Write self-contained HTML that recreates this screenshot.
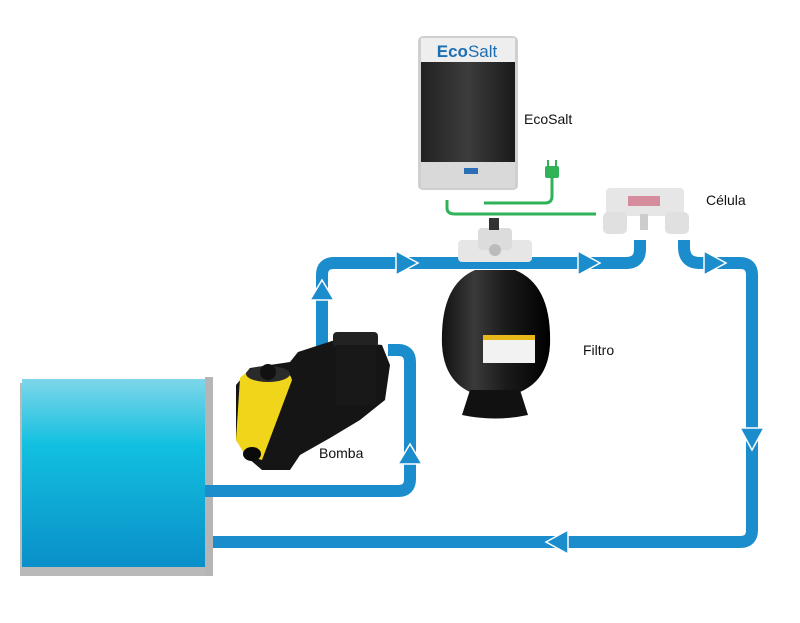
<!DOCTYPE html>
<html><head><meta charset="utf-8"><style>
html,body{margin:0;padding:0;background:#fff}
svg{display:block}
text{font-family:"Liberation Sans",sans-serif}
</style></head><body>
<svg width="800" height="623" viewBox="0 0 800 623" xmlns="http://www.w3.org/2000/svg">
<defs>
<linearGradient id="pool" x1="0" y1="0" x2="0" y2="1">
<stop offset="0" stop-color="#7fd6ea"/><stop offset="0.35" stop-color="#12c0e0"/><stop offset="1" stop-color="#0a8fc8"/>
</linearGradient>
<linearGradient id="tank" x1="0" y1="0" x2="1" y2="0">
<stop offset="0" stop-color="#111"/><stop offset="0.3" stop-color="#3a3a3a"/><stop offset="0.6" stop-color="#1a1a1a"/><stop offset="1" stop-color="#000"/>
</linearGradient>
<linearGradient id="box" x1="0" y1="0" x2="1" y2="0">
<stop offset="0" stop-color="#222"/><stop offset="0.5" stop-color="#3c3c3c"/><stop offset="1" stop-color="#1a1a1a"/>
</linearGradient>
</defs>
<rect x="20" y="383" width="193" height="193" fill="#b9b9b9"/>
<rect x="22" y="379" width="183" height="188" fill="url(#pool)"/>
<rect x="205" y="377" width="8" height="199" fill="#b5b5b5"/>
<g fill="none" stroke="#1b8ccc" stroke-width="12" stroke-linejoin="round">
<path d="M205 491 H398 Q410 491 410 479 V362 Q410 350 398 350 H388"/>
<path d="M213 542 H740 Q752 542 752 530 V275 Q752 263 740 263 H700 Q684 263 684 247 V240"/>
<path d="M322 362 V275 Q322 263 334 263 H626 Q640 263 640 249 V240"/>
</g>
<g fill="#1b8ccc" stroke="#fff" stroke-width="1.5">
<polygon points="396,251 396,275 418,263"/>
<polygon points="578,251 578,275 600,263"/>
<polygon points="704,251 704,275 726,263"/>
<polygon points="310,300 334,300 322,280"/>
<polygon points="398,464 422,464 410,444"/>
<polygon points="740,428 764,428 752,450"/>
<polygon points="568,530 568,554 546,542"/>
</g>
<g>
<path d="M298 352 L335 340 L382 345 L390 365 L385 400 L360 420 L330 438 L300 455 L290 470 L262 470 L248 458 L236 440 L236 385 L250 368 L290 362 Z" fill="#151515"/>
<path d="M240 378 Q248 368 280 368 Q290 372 292 380 L262 460 L245 455 L236 440 Z" fill="#f0d51a"/>
<ellipse cx="268" cy="374" rx="22" ry="8" fill="#2a2a2a"/>
<circle cx="268" cy="372" r="8" fill="#111"/>
<rect x="333" y="332" width="45" height="15" rx="4" fill="#222"/>
<rect x="336" y="345" width="40" height="60" fill="#181818"/>
<ellipse cx="252" cy="454" rx="9" ry="7" fill="#0a0a0a"/>
</g>
<text x="319" y="458" font-size="14" fill="#111">Bomba</text>
<g>
<rect x="458" y="240" width="74" height="22" rx="4" fill="#e6e6e6"/>
<rect x="478" y="228" width="34" height="22" rx="4" fill="#dcdcdc"/>
<rect x="489" y="218" width="10" height="12" fill="#333"/>
<circle cx="495" cy="250" r="6" fill="#bbb"/>
<path d="M475 270 Q440 285 442 345 Q444 380 470 392 L520 392 Q548 380 550 345 Q552 285 515 270 Z" fill="url(#tank)"/>
<path d="M470 390 L462 415 Q495 422 528 415 L520 390 Z" fill="#111"/>
<rect x="483" y="335" width="52" height="28" fill="#f2f2f2"/>
<rect x="483" y="335" width="52" height="5" fill="#e8b81a"/>
</g>
<text x="583" y="355" font-size="14" fill="#111">Filtro</text>
<g>
<path d="M424 36 H512 Q518 36 518 42 V185 Q518 190 512 190 H424 Q418 190 418 185 V42 Q418 36 424 36 Z" fill="#cfcfcf"/>
<rect x="421" y="38" width="94" height="24" fill="#eeeeee"/>
<rect x="421" y="62" width="94" height="100" fill="url(#box)"/>
<rect x="421" y="162" width="94" height="26" fill="#d9d9d9"/>
<rect x="464" y="168" width="14" height="6" fill="#2a6fb5"/>
<text x="467" y="57" font-size="17" font-weight="bold" fill="#1c6fb3" text-anchor="middle">Eco<tspan font-weight="normal">Salt</tspan></text>
</g>
<text x="524" y="124" font-size="14" fill="#111">EcoSalt</text>
<g fill="none" stroke="#2fb356" stroke-width="3">
<path d="M447 200 V208 Q447 214 455 214 H596"/>
<path d="M484 203 H545 Q552 203 552 196 V178"/>
</g>
<rect x="545" y="166" width="14" height="12" rx="2" fill="#2fb356"/>
<rect x="547" y="160" width="2" height="7" fill="#2fb356"/><rect x="555" y="160" width="2" height="7" fill="#2fb356"/>
<g>
<rect x="606" y="188" width="78" height="28" rx="4" fill="#e6e6e6"/>
<rect x="628" y="196" width="32" height="10" fill="#c9506a" opacity="0.6"/>
<rect x="603" y="212" width="24" height="22" rx="5" fill="#e0e0e0"/>
<rect x="665" y="212" width="24" height="22" rx="5" fill="#e0e0e0"/>
<rect x="640" y="214" width="8" height="16" fill="#ccc"/>
</g>
<text x="706" y="205" font-size="14" fill="#111">Célula</text>
</svg>
</body></html>
